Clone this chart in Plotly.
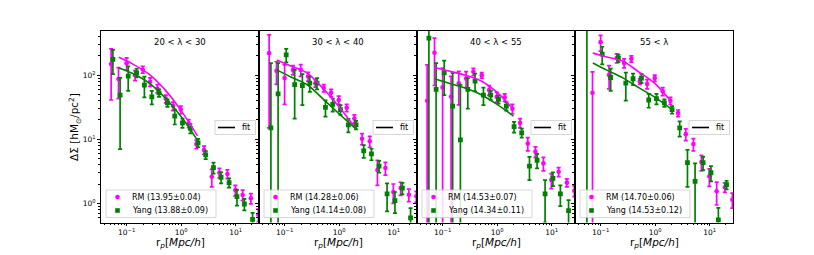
import plotly.graph_objects as go

# ---------------- data ----------------
panel_titles = ["20 < λ < 30", "30 < λ < 40", "40 < λ < 55", "55 < λ"]
rm_labels = ["RM (13.95±0.04)", "RM (14.28±0.06)", "RM (14.53±0.07)", "RM (14.70±0.06)"]
yang_labels = ["Yang (13.88±0.09)", "Yang (14.14±0.08)", "Yang (14.34±0.11)", "Yang (14.53±0.12)"]
x_ticks = [0.1, 1, 10]
x_tick_text = ["10<sup>−1</sup>", "10<sup>0</sup>", "10<sup>1</sup>"]
y_ticks = [1, 10, 100]
y_tick_text = ["10<sup>0</sup>", "10<sup>1</sup>", "10<sup>2</sup>"]

rp_rm = [0.052, 0.071, 0.10, 0.143, 0.198, 0.27, 0.367, 0.524, 0.713, 0.986,
         1.38, 1.91, 2.64, 3.66, 5.05, 7.08, 9.9, 13.5, 19.1, 26.2]
rp_yang = [0.056, 0.076, 0.107, 0.153, 0.212, 0.29, 0.394, 0.562, 0.765, 1.06,
           1.48, 2.05, 2.83, 3.93, 5.42, 7.6, 10.6, 14.5, 20.5, 28.1]

rm_p1 = [149, 87, 153, 100, 123, 79, 62, 43, 33, 29, 17.7, 8.4, 6.8, 2.6, 3.0, 2.87, 1.61, 1.35, 1.2, 0.66]
rm_err_p1 = [108, 44, 33, 18, 15, 12, 9, 6, 5, 4, 2.5, 1.3, 1.0, 0.8, 0.5, 0.45, 0.3, 0.25, 0.22, 0.15]
yang_p1 = [176, 49, 97, 109, 70, 46, 53, 37, 23, 18, 14.8, 8.8, 5.7, 3.6, 2.55, 2.1, 1.27, 0.975, 0.56, None]
yang_err_p1 = [72, 42, 40, 17, 25, 11, 7, 5, 6, 3, 2.5, 1.3, 0.8, 0.7, 0.5, 0.35, 0.35, 0.2, 0.15, None]

rm_p2 = [221, 117, 90, 121, 121, 96, 75, 63, 53, 41, 31, 21, 10.2, 9.3, 3.3, 3.55, 1.5, 1.73, 1.36, 1.29]
rm_err_p2 = [206, 45, 55, 20, 25, 15, 10, 8, 7, 6, 4, 3, 2, 1.8, 1.4, 0.8, 0.5, 0.4, 0.3, 0.25]
yang_p2 = [15, 51, 208, 71, 69, 75, 75, 31.5, 35, 29, 16.8, 16.8, 6.6, 5.9, 3.8, 1.4, 1.1, 1.73, 0.59, None]
yang_err_p2 = [139, 103, 50, 50, 35, 20, 15, 9, 8, 5, 4, 2.5, 1.5, 1.2, 0.8, 0.65, 0.4, 0.35, 0.25, None]

rm_p3 = [40, 224, 64.5, 46, 74.5, 89, 113, 100, 58.5, 46, 45, 30, 18, 8.6, 6.4, 4.2, 2.3, 3.1, 2.1, 1.57]
rm_err_p3 = [105, 155, 65, 50, 40, 25, 15, 10, 10, 8, 6, 5, 3, 2, 1.2, 1.0, 0.6, 0.5, 0.3, 0.3]
yang_p3 = [380, 60, 109, 33, 9.8, 60, 81, 49, 49, 42, 33, 15.7, 12.6, 3.8, 4.7, 1.4, 2.45, 1.4, 0.77, None]
yang_err_p3 = [500, 94, 60, 75, 61, 30, 25, 15, 8, 6, 5, 3, 2, 1.5, 1.2, 0.9, 0.6, 0.5, 0.35, None]

rm_p4 = [None, 53, 328, 101, 185, 155, 180, 80, 73, 90, 56, 40, 25.6, 12, 8.4, 4.4, 2.64, 1.54, 1.78, 1.14]
rm_err_p4 = [None, 60, 90, 40, 30, 25, 20, 8, 12, 10, 8, 5, 3, 2.5, 1.8, 1.2, 0.8, 0.6, 0.3, 0.3]
yang_p4 = [600, None, 213, 92, 185, 75, 88, 90, 41, 43, 37, 29, 15, 4.3, 2.2, 4.3, 3.0, 0.55, 1.95, None]
yang_err_p4 = [700, None, 65, 35, 25, 35, 18, 15, 10, 8, 5, 4, 4, 2.5, 2.0, 1.0, 0.8, 0.3, 0.3, None]

fit_rp = [0.072, 0.13, 0.26, 0.5, 1.0, 2.0]
fit_rm_p1 = [190, 149, 103, 60, 28, 11.3]
fit_yang_p1 = [130, 106, 75, 45, 22.7, 9.6]
fit_rm_p2 = [172, 139, 108, 63, 32, 15]
fit_yang_p2 = [121, 94, 71, 43, 25, 14.6]
fit_rm_p3 = [132, 116, 100, 82, 54, 29]
fit_yang_p3 = [88, 75, 63, 50, 35, 23]
fit_rm_p4 = [221, 192, 164, 113, 74, 38]
fit_yang_p4 = [155, 120, 90, 64, 45, 29.5]

rm_data = [rm_p1, rm_p2, rm_p3, rm_p4]
rm_errs = [rm_err_p1, rm_err_p2, rm_err_p3, rm_err_p4]
yang_data = [yang_p1, yang_p2, yang_p3, yang_p4]
yang_errs = [yang_err_p1, yang_err_p2, yang_err_p3, yang_err_p4]
fit_rm = [fit_rm_p1, fit_rm_p2, fit_rm_p3, fit_rm_p4]
fit_yang = [fit_yang_p1, fit_yang_p2, fit_yang_p3, fit_yang_p4]

# ---------------- styling / layout ----------------
W, H = 814, 255
MAG = "#FF00FF"
GRN = "#008000"
FONT = "DejaVu Sans"
PL = [101, 259, 417, 575]
PW = 158
PT, PB = 31, 222.5


def fx(x):
    return x / W


def fy(y):
    return 1 - y / H


minor_vals = [k * 10 ** n for n in range(-2, 3) for k in range(2, 10)]

fig = go.Figure()
shapes = []
annotations = []

for p in range(4):
    s = "" if p == 0 else str(p + 1)
    xa, ya = "x" + s, "y" + s
    fig.add_trace(go.Scatter(
        x=rp_rm, y=rm_data[p], xaxis=xa, yaxis=ya, mode="markers",
        marker=dict(color=MAG, size=4.6, symbol="circle"),
        error_y=dict(type="data", array=rm_errs[p], color=MAG, thickness=1.7, width=2),
        showlegend=False))
    fig.add_trace(go.Scatter(
        x=rp_yang, y=yang_data[p], xaxis=xa, yaxis=ya, mode="markers",
        marker=dict(color=GRN, size=4.8, symbol="square"),
        error_y=dict(type="data", array=yang_errs[p], color=GRN, thickness=1.7, width=2),
        showlegend=False))
    fig.add_trace(go.Scatter(x=fit_rp, y=fit_rm[p], xaxis=xa, yaxis=ya, mode="lines",
                             line=dict(color=MAG, width=1.6, shape="spline"), showlegend=False))
    fig.add_trace(go.Scatter(x=fit_rp, y=fit_yang[p], xaxis=xa, yaxis=ya, mode="lines",
                             line=dict(color=GRN, width=1.6, shape="spline"), showlegend=False))

    L = PL[p]
    common = dict(showline=True, mirror=True, linecolor="black", linewidth=0.8,
                  ticks="outside", ticklen=3, tickwidth=0.8, tickcolor="black",
                  showgrid=False, zeroline=False,
                  tickfont=dict(family=FONT, size=7.5, color="black"))
    fig.update_layout(**{
        "xaxis" + s: dict(type="log", range=[-1.47, 1.43], domain=[fx(L), fx(L + PW)],
                          anchor=ya, tickmode="array", tickvals=x_ticks, ticktext=x_tick_text,
                          minor=dict(tickmode="array", tickvals=minor_vals, ticks="outside",
                                     ticklen=1.8, tickwidth=0.6, tickcolor="black"),
                          **common),
        "yaxis" + s: dict(type="log", range=[-0.30, 2.69], domain=[fy(PB), fy(PT)],
                          anchor=xa, tickmode="array", tickvals=y_ticks, ticktext=y_tick_text,
                          showticklabels=(p == 0),
                          minor=dict(tickmode="array", tickvals=minor_vals, ticks="outside",
                                     ticklen=1.8, tickwidth=0.6, tickcolor="black"),
                          **common),
    })

    annotations.append(dict(x=fx(L + PW / 2), y=fy(41.7), xref="paper", yref="paper",
                            text=panel_titles[p], showarrow=False, xanchor="center", yanchor="middle",
                            font=dict(family=FONT, size=8.5, color="black")))
    annotations.append(dict(x=fx(L + PW / 2), y=fy(243), xref="paper", yref="paper",
                            text="r<sub><i>p</i></sub>[<i>Mpc/h</i>]", showarrow=False,
                            xanchor="center", yanchor="middle",
                            font=dict(family=FONT, size=10.5, color="black")))

    shapes.append(dict(type="rect", xref="paper", yref="paper",
                       x0=fx(L + 114), x1=fx(L + 154.5), y0=fy(134.5), y1=fy(120.5),
                       line=dict(color="#cccccc", width=0.8), fillcolor="rgba(255,255,255,0.85)"))
    shapes.append(dict(type="line", xref="paper", yref="paper",
                       x0=fx(L + 117), x1=fx(L + 134), y0=fy(127.5), y1=fy(127.5),
                       line=dict(color="black", width=1.6)))
    annotations.append(dict(x=fx(L + 139), y=fy(127.5), xref="paper", yref="paper", text="fit",
                            showarrow=False, xanchor="left", yanchor="middle",
                            font=dict(family=FONT, size=8, color="black")))

    shapes.append(dict(type="rect", xref="paper", yref="paper",
                       x0=fx(L + 5), x1=fx(L + 115), y0=fy(217.5), y1=fy(190),
                       line=dict(color="#cccccc", width=0.8), fillcolor="rgba(255,255,255,0.85)"))
    r = 2.3
    shapes.append(dict(type="circle", xref="paper", yref="paper",
                       x0=fx(L + 16.5 - r), x1=fx(L + 16.5 + r), y0=fy(197 + r), y1=fy(197 - r),
                       line=dict(width=0), fillcolor=MAG))
    shapes.append(dict(type="rect", xref="paper", yref="paper",
                       x0=fx(L + 16.5 - r), x1=fx(L + 16.5 + r), y0=fy(210.5 + r), y1=fy(210.5 - r),
                       line=dict(width=0), fillcolor=GRN))
    annotations.append(dict(x=fx(L + 29), y=fy(197), xref="paper", yref="paper", text=rm_labels[p],
                            showarrow=False, xanchor="left", yanchor="middle",
                            font=dict(family=FONT, size=8, color="black")))
    annotations.append(dict(x=fx(L + 29), y=fy(210.5), xref="paper", yref="paper", text=yang_labels[p],
                            showarrow=False, xanchor="left", yanchor="middle",
                            font=dict(family=FONT, size=8, color="black")))

annotations.append(dict(x=fx(75), y=fy(127), xref="paper", yref="paper",
                        text="ΔΣ [hM<sub>⊙</sub>/pc<sup>2</sup>]", textangle=-90, showarrow=False,
                        xanchor="center", yanchor="middle",
                        font=dict(family=FONT, size=10.5, color="black")))

fig.update_layout(width=W, height=H, margin=dict(l=0, r=0, t=0, b=0),
                  paper_bgcolor="white", plot_bgcolor="white",
                  showlegend=False, shapes=shapes, annotations=annotations,
                  font=dict(family=FONT, color="black"))

fig.write_html("out.html", config={"displayModeBar": False},
               post_script="document.body.style.margin='0px';document.body.style.overflow='hidden';")
